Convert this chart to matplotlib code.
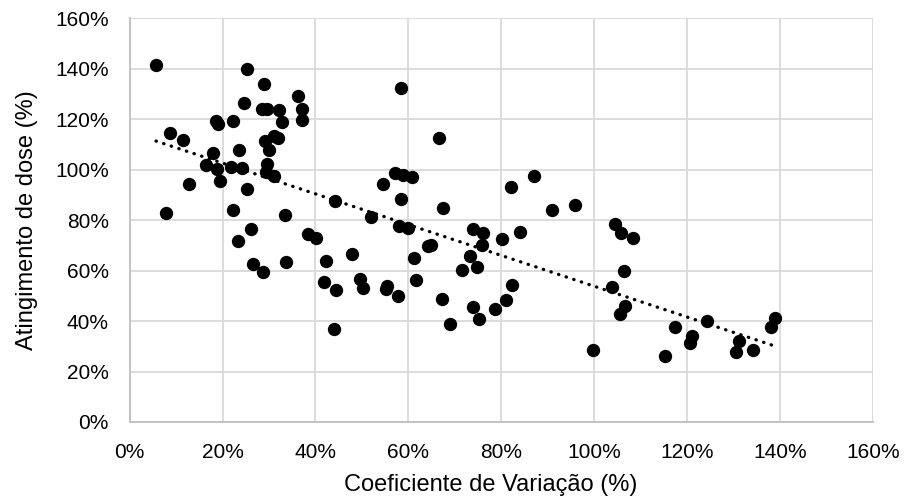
import matplotlib
matplotlib.use("Agg")
import matplotlib.pyplot as plt
import numpy as np
from matplotlib.ticker import FuncFormatter

plt.rcParams['font.family'] = ['Liberation Sans', 'DejaVu Sans']

# coeficiente de variação (%) and atingimento de dose (%)
cv = [5.7, 25.2, 29.0, 36.3, 24.7, 28.4, 29.5, 32.2, 37.2, 37.2, 32.7, 18.6, 19.0, 22.3,
      8.6, 11.6, 29.1, 31.1, 31.9, 29.9, 23.6, 18.0, 29.5, 29.4, 31.1, 16.5, 18.8, 21.8,
      24.3, 19.5, 12.8, 25.2, 44.3, 7.8, 22.3, 33.4, 26.1, 38.5, 40.1, 23.3, 26.6, 28.8,
      33.7, 42.3, 47.8, 41.8, 44.4, 43.9, 58.5, 66.5, 57.2, 58.8, 60.7, 54.5, 58.3, 67.4,
      51.9, 58.0, 59.8, 82.1, 87.1, 90.9, 95.8, 73.8, 76.0, 75.8, 84.1, 80.1, 49.6, 50.3,
      55.4, 55.2, 57.7, 61.2, 61.6, 64.3, 64.8, 67.3, 69.0, 73.2, 71.5, 74.7, 73.8, 75.2,
      78.7, 80.9, 82.3, 104.4, 105.7, 108.3, 106.4, 103.7, 106.6, 105.5, 99.7, 115.1,
      117.4, 121.1, 120.5, 124.3, 131.1, 130.4, 134.2, 138.8, 137.9]
dose = [141.4, 140.1, 133.9, 129.4, 126.6, 123.9, 124.2, 123.5, 123.9, 119.8, 119.0, 119.4,
        118.0, 119.3, 114.6, 111.6, 111.2, 113.5, 112.4, 107.7, 107.9, 106.6, 102.4, 99.3,
        97.6, 101.7, 100.1, 101.2, 100.7, 95.6, 94.3, 92.2, 87.7, 82.9, 83.9, 82.0, 76.5,
        74.4, 73.0, 71.9, 62.8, 59.5, 63.6, 64.0, 66.7, 55.4, 52.5, 36.8, 132.3, 112.4,
        98.7, 97.9, 97.1, 94.3, 88.4, 84.8, 81.1, 77.8, 77.1, 93.1, 97.5, 83.9, 86.2, 76.5,
        74.9, 70.2, 75.4, 72.7, 56.7, 53.0, 54.1, 52.7, 50.0, 65.0, 56.1, 69.6, 70.2, 48.8,
        39.0, 65.9, 60.3, 61.6, 45.4, 40.9, 44.8, 48.3, 54.2, 78.6, 75.1, 72.9, 59.9, 53.6,
        45.8, 42.7, 28.4, 26.3, 37.6, 34.2, 31.2, 40.0, 32.3, 27.9, 28.4, 41.1, 37.8]

x = np.array(cv) / 100
y = np.array(dose) / 100

fig = plt.figure(figsize=(9.09, 5.04), dpi=100)
ax = fig.add_axes([0.1425, 0.1627, 0.8182, 0.8008])

ax.scatter(x, y, s=92, color='black', zorder=3, linewidths=0)

# linear trendline
a, b = np.polyfit(x, y, 1)
xt = np.array([x.min(), x.max()])
ax.plot(xt, a * xt + b, color='black', lw=2.4, linestyle=(0, (0.1, 2.3)),
        dash_capstyle='round', zorder=2)

ax.set_xlim(0, 1.6)
ax.set_ylim(0, 1.6)
ax.set_xticks(np.arange(0, 1.61, 0.2))
ax.set_yticks(np.arange(0, 1.61, 0.2))
pct = FuncFormatter(lambda v, p: f"{v*100:.0f}%")
ax.xaxis.set_major_formatter(pct)
ax.yaxis.set_major_formatter(pct)
ax.grid(True, color='#d9d9d9', lw=1.3, zorder=0)
ax.set_axisbelow(True)
for s in ['top', 'right']:
    ax.spines[s].set_visible(False)
for s in ['left', 'bottom']:
    ax.spines[s].set_color('#bfbfbf')
    ax.spines[s].set_linewidth(1.3)
ax.tick_params(axis='x', length=0, labelsize=15, pad=15, colors='#000000')
ax.tick_params(axis='y', length=0, labelsize=15, pad=15, colors='#000000')
ax.set_xlabel('Coeficiente de Variação (%)', fontsize=17, labelpad=9, x=0.485)
ax.set_ylabel('Atingimento de dose (%)', fontsize=17, labelpad=12)

fig.savefig('out.png', dpi=100)
